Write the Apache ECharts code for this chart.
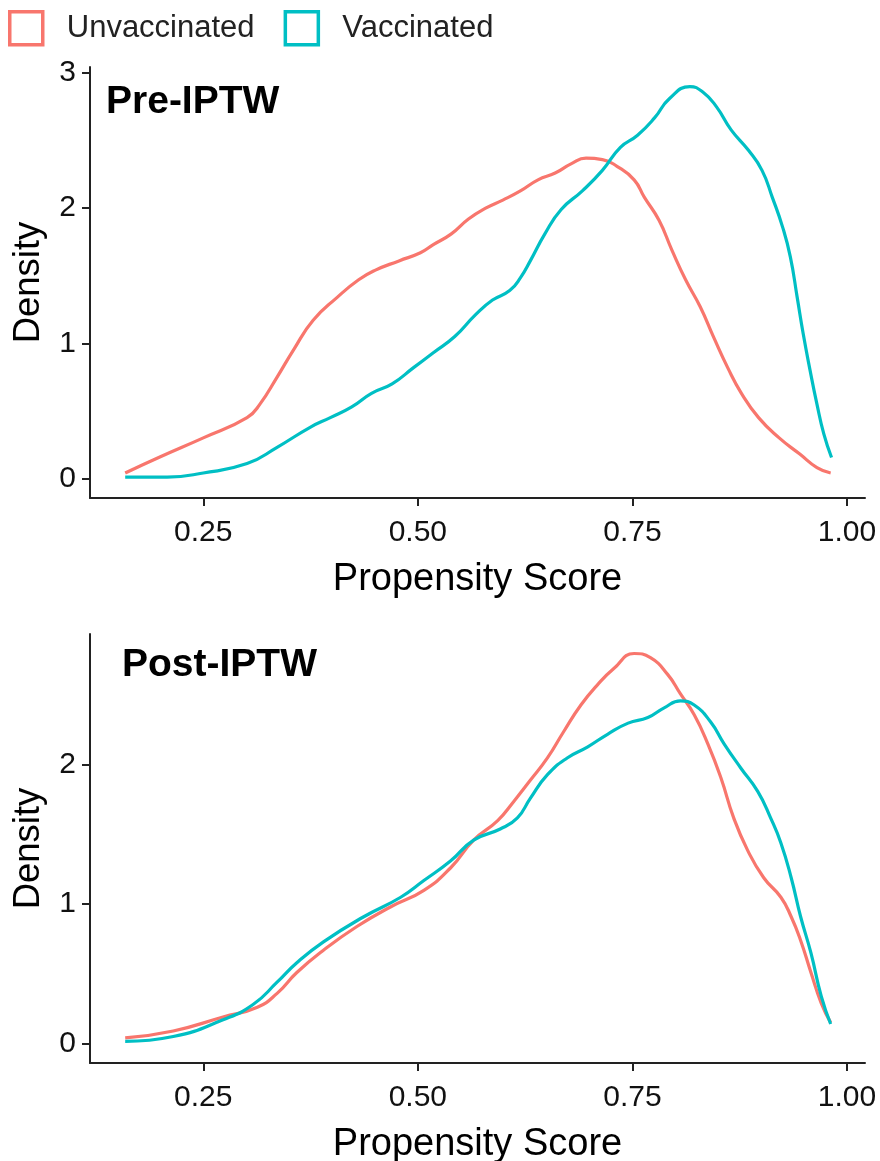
<!DOCTYPE html>
<html>
<head>
<meta charset="utf-8">
<title>Propensity Score Density</title>
<script src="https://cdn.jsdelivr.net/npm/echarts@6/dist/echarts.min.js"></script>
<style>
  html, body { margin: 0; padding: 0; background: #fff; }
  #chart { width: 880px; height: 1161px; }
</style>
</head>
<body>
<div id="chart"></div>
<script>
// series names / panel titles
var groups = ["Unvaccinated", "Vaccinated"];
var panels = ["Pre-IPTW", "Post-IPTW"];
var xTicks = [0.25, 0.5, 0.75, 1.0];
var preYTicks = [0, 1, 2, 3];
var postYTicks = [0, 1, 2];

// Pre-IPTW, unvaccinated
var preUnvacX = [0.159, 0.200, 0.250, 0.301, 0.316, 0.336, 0.355, 0.378, 0.406, 0.431, 0.450, 0.478, 0.503, 0.518, 0.539, 0.559, 0.579, 0.599, 0.620, 0.640, 0.660, 0.679, 0.696, 0.715, 0.732, 0.752, 0.764, 0.781, 0.796, 0.812, 0.829, 0.845, 0.861, 0.877, 0.897, 0.921, 0.945, 0.965, 0.981];
var preUnvacY = [0.04, 0.16, 0.30, 0.45, 0.55, 0.75, 0.95, 1.17, 1.34, 1.47, 1.54, 1.61, 1.67, 1.73, 1.81, 1.92, 2.00, 2.06, 2.13, 2.21, 2.26, 2.33, 2.37, 2.36, 2.31, 2.21, 2.08, 1.91, 1.69, 1.47, 1.27, 1.04, 0.82, 0.63, 0.45, 0.30, 0.18, 0.08, 0.04];

// Pre-IPTW, vaccinated
var preVacX = [0.159, 0.208, 0.250, 0.301, 0.336, 0.375, 0.398, 0.423, 0.446, 0.470, 0.495, 0.518, 0.543, 0.567, 0.587, 0.607, 0.620, 0.631, 0.648, 0.667, 0.692, 0.715, 0.736, 0.756, 0.776, 0.793, 0.817, 0.832, 0.848, 0.865, 0.885, 0.901, 0.913, 0.925, 0.934, 0.942, 0.949, 0.957, 0.965, 0.973, 0.982];
var preVacY = [0.01, 0.01, 0.04, 0.11, 0.23, 0.38, 0.45, 0.53, 0.63, 0.70, 0.82, 0.93, 1.05, 1.21, 1.32, 1.39, 1.49, 1.61, 1.81, 1.99, 2.13, 2.28, 2.45, 2.54, 2.67, 2.81, 2.90, 2.86, 2.75, 2.58, 2.43, 2.28, 2.08, 1.86, 1.64, 1.34, 1.07, 0.80, 0.55, 0.33, 0.155];

// Post-IPTW, unvaccinated
var postUnvacX = [0.159, 0.215, 0.273, 0.313, 0.336, 0.359, 0.390, 0.429, 0.468, 0.507, 0.538, 0.565, 0.593, 0.612, 0.631, 0.651, 0.670, 0.690, 0.710, 0.728, 0.752, 0.771, 0.791, 0.806, 0.822, 0.838, 0.853, 0.868, 0.884, 0.903, 0.923, 0.935, 0.946, 0.958, 0.970, 0.981];
var postUnvacY = [0.04, 0.09, 0.19, 0.26, 0.36, 0.51, 0.67, 0.84, 0.98, 1.10, 1.26, 1.46, 1.60, 1.74, 1.89, 2.05, 2.24, 2.43, 2.58, 2.69, 2.80, 2.77, 2.65, 2.51, 2.36, 2.15, 1.91, 1.62, 1.39, 1.19, 1.05, 0.91, 0.74, 0.51, 0.29, 0.15];

// Post-IPTW, vaccinated
var postVacX = [0.159, 0.215, 0.273, 0.308, 0.336, 0.359, 0.390, 0.437, 0.480, 0.507, 0.538, 0.565, 0.596, 0.616, 0.631, 0.651, 0.674, 0.698, 0.721, 0.745, 0.768, 0.787, 0.806, 0.822, 0.841, 0.857, 0.876, 0.896, 0.911, 0.923, 0.935, 0.946, 0.958, 0.970, 0.981];
var postVacY = [0.015, 0.05, 0.17, 0.28, 0.44, 0.58, 0.73, 0.91, 1.05, 1.17, 1.31, 1.46, 1.54, 1.62, 1.76, 1.93, 2.05, 2.13, 2.22, 2.30, 2.34, 2.41, 2.46, 2.43, 2.31, 2.15, 1.98, 1.81, 1.62, 1.44, 1.19, 0.91, 0.65, 0.34, 0.14];

var colors = ["#F8766D", "#00BFC4"];
var font = "Liberation Sans, Arial, sans-serif";

function zip(xs, ys) {
  return xs.map(function (x, i) { return [x, ys[i]]; });
}

function xAxis(idx) {
  return {
    type: "value",
    gridIndex: idx,
    min: 0.118,
    max: 1.021,
    name: "Propensity Score",
    nameLocation: "middle",
    nameGap: 63,
    nameTextStyle: { fontSize: 38, color: "#000", fontFamily: font },
    axisLine: { onZero: false, lineStyle: { color: "#222", width: 2 } },
    axisTick: { length: 8, customValues: xTicks, lineStyle: { color: "#222", width: 2 } },
    axisLabel: {
      customValues: xTicks, margin: 20, fontSize: 30, color: "#111", fontFamily: font,
      formatter: function (v) { return v.toFixed(2); }
    },
    splitLine: { show: false }
  };
}

function yAxis(idx, min, max, ticks) {
  return {
    type: "value",
    gridIndex: idx,
    min: min,
    max: max,
    name: "Density",
    nameLocation: "middle",
    nameGap: 43,
    nameTextStyle: { fontSize: 36.5, color: "#000", fontFamily: font },
    axisLine: { onZero: false, lineStyle: { color: "#222", width: 2 } },
    axisTick: { length: 8, customValues: ticks, lineStyle: { color: "#222", width: 2 } },
    axisLabel: { customValues: ticks, margin: 14, fontSize: 30, color: "#111", fontFamily: font },
    splitLine: { show: false }
  };
}

function line(name, idx, data, color) {
  return {
    name: name,
    type: "line",
    xAxisIndex: idx,
    yAxisIndex: idx,
    data: data,
    showSymbol: false,
    smooth: 0.5,
    color: color,
    lineStyle: { color: color, width: 3.2 },
    animation: false
  };
}

var chart = echarts.init(document.getElementById("chart"));
chart.setOption({
  backgroundColor: "#fff",
  animation: false,
  title: [
    { text: panels[0], left: 106, top: 83, padding: 0,
      textStyle: { fontSize: 39, fontWeight: "bold", color: "#000", fontFamily: font } },
    { text: panels[1], left: 122, top: 646, padding: 0,
      textStyle: { fontSize: 39, fontWeight: "bold", color: "#000", fontFamily: font } }
  ],
  legend: {
    left: 8,
    top: 10,
    padding: 0,
    icon: "rect",
    itemWidth: 33,
    itemHeight: 33,
    itemGap: 29,
    textStyle: { fontSize: 31, color: "#222", fontFamily: font, padding: [7, 0, 0, 19] },
    data: groups.map(function (g, i) {
      return { name: g, itemStyle: { color: "rgba(0,0,0,0)", borderColor: colors[i], borderWidth: 3.5 } };
    })
  },
  grid: [
    { left: 90, top: 67, width: 775, height: 431, outerBoundsMode: "none" },
    { left: 90, top: 634, width: 775, height: 429, outerBoundsMode: "none" }
  ],
  xAxis: [xAxis(0), xAxis(1)],
  yAxis: [yAxis(0, -0.145, 3.045, preYTicks), yAxis(1, -0.14, 2.94, postYTicks)],
  series: [
    line(groups[0], 0, zip(preUnvacX, preUnvacY), colors[0]),
    line(groups[1], 0, zip(preVacX, preVacY), colors[1]),
    line(groups[0], 1, zip(postUnvacX, postUnvacY), colors[0]),
    line(groups[1], 1, zip(postVacX, postVacY), colors[1])
  ]
});
</script>
</body>
</html>
